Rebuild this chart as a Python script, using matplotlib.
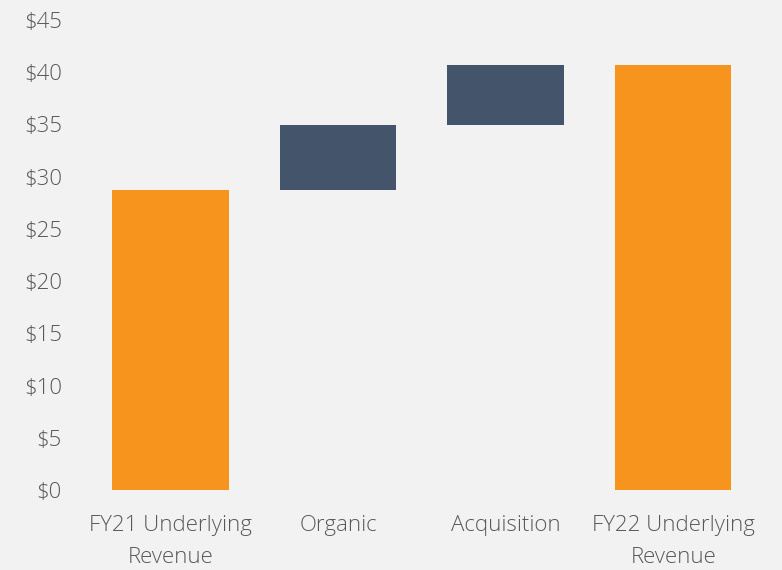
import matplotlib.pyplot as plt
from matplotlib.ticker import FuncFormatter

categories = ["FY21 Underlying\nRevenue", "Organic", "Acquisition", "FY22 Underlying\nRevenue"]
fy21 = 28.7
organic = 6.2
acquisition = 5.8
fy22 = fy21 + organic + acquisition

bottoms = [0, fy21, fy21 + organic, 0]
heights = [fy21, organic, acquisition, fy22]
colors = ["#F7941D", "#44546A", "#44546A", "#F7941D"]

plt.rcParams['font.family'] = ['Open Sans', 'DejaVu Sans']
fig = plt.figure(figsize=(7.82, 5.70), dpi=100, facecolor="#F2F2F2")
ax = fig.add_axes([0.111, 0.1404, 0.857, 0.8246])
ax.set_facecolor("#F2F2F2")
x = range(len(categories))
ax.bar(x, heights, bottom=bottoms, color=colors, width=0.695)
ax.set_xlim(-0.5, 3.5)
ax.set_ylim(0, 45)
ax.set_yticks(range(0, 50, 5))
ax.yaxis.set_major_formatter(FuncFormatter(lambda v, p: f"${v:.0f}"))
ax.set_xticks(list(x))
ax.set_xticklabels(categories, linespacing=1.7)
for s in ax.spines.values():
    s.set_visible(False)
ax.tick_params(length=0, labelsize=16, colors="#595959")
ax.tick_params(axis="y", pad=18)
ax.tick_params(axis="x", pad=18)
for lab in ax.get_xticklabels() + ax.get_yticklabels():
    lab.set_fontweight("light")
fig.savefig("out.png", dpi=100, facecolor=fig.get_facecolor())
